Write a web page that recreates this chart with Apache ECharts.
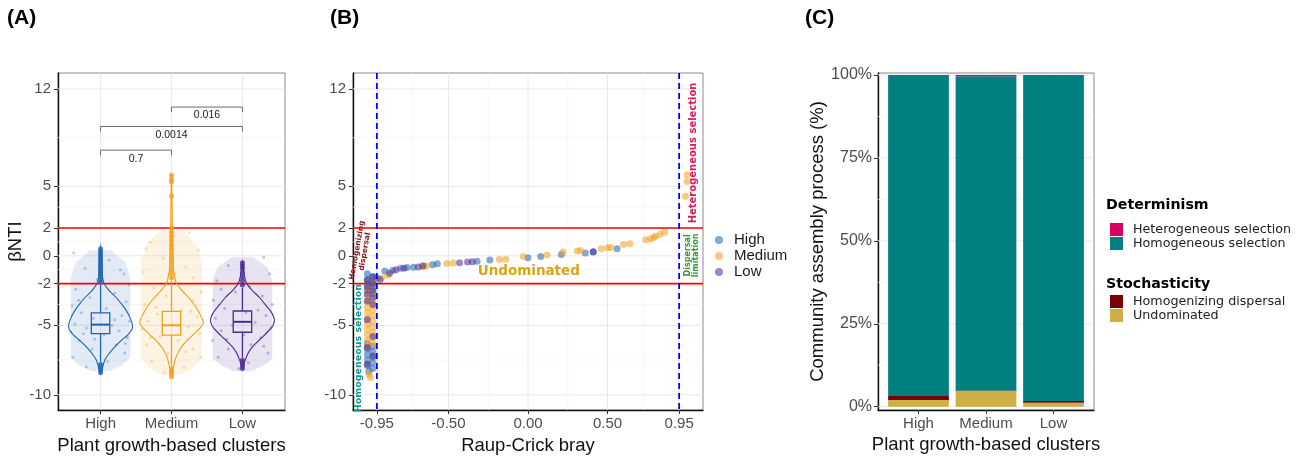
<!DOCTYPE html>
<html>
<head>
<meta charset="utf-8">
<script src="https://cdn.jsdelivr.net/npm/echarts@6/dist/echarts.min.js"></script>
<style>
  html, body { margin: 0; padding: 0; background: #fff; }
  #chart { width: 1304px; height: 460px; }
</style>
</head>
<body>
<div id="chart"></div>
<script>
// ---- data ----
const groups = ['High', 'Medium', 'Low'];
const groupColors = ['#2162b0', '#f0a01e', '#4b2a94'];

const yTicks = [12, 5, 2, 0, -2, -5, -10];
const yMinor = [8.5, 3.5, 1, -1, -3.5, -7.5];
const thresholds = [2, -2];

// (A) violin outlines: [betaNTI, half width]
const violinHigh = [[0.6,0],[0,0.012],[-1,0.02],[-1.6,0.03],[-2,0.05],[-2.5,0.12],[-3,0.22],[-3.5,0.3],[-4,0.37],[-4.5,0.42],[-5,0.45],[-5.3,0.44],[-5.7,0.38],[-6.1,0.29],[-6.6,0.19],[-7.1,0.11],[-7.5,0.06],[-8,0.03],[-8.5,0]];
const violinMed = [[5.9,0],[4,0.008],[2,0.012],[0,0.02],[-1,0.03],[-1.6,0.05],[-2,0.07],[-2.5,0.15],[-3,0.24],[-3.5,0.32],[-4,0.38],[-4.5,0.43],[-4.8,0.45],[-5.2,0.4],[-5.7,0.3],[-6.2,0.2],[-6.7,0.12],[-7.2,0.07],[-7.7,0.04],[-8.2,0.02],[-8.7,0]];
const violinLow = [[-0.5,0],[-1,0.015],[-1.5,0.03],[-2,0.06],[-2.5,0.14],[-3,0.24],[-3.5,0.32],[-4,0.4],[-4.4,0.44],[-4.7,0.45],[-5.1,0.42],[-5.5,0.35],[-6,0.25],[-6.5,0.15],[-7,0.08],[-7.5,0.04],[-8.1,0]];

// (A) extent of the jittered point cloud: [betaNTI, half width]
const cloudHigh = [[0.4,0.15],[-0.5,0.35],[-1.5,0.42],[-7.3,0.42],[-7.9,0.3],[-8.3,0.12]];
const cloudMed = [[1.9,0.15],[0.8,0.35],[-0.5,0.43],[-7.4,0.43],[-8.1,0.3],[-8.6,0.12]];
const cloudLow = [[-0.1,0.15],[-0.8,0.35],[-1.8,0.42],[-7.4,0.42],[-7.9,0.3],[-8.3,0.12]];

// (A) some of the jittered points: [offset from group, betaNTI]
const jitHigh = [[-0.38,0.2],[0.12,-0.3],[-0.22,-0.9],[0.33,-1.3],[-0.05,-1.7],[0.4,-2.1],[-0.35,-2.4],[0.2,-2.7],[-0.15,-3.0],[0.36,-3.3],[-0.4,-3.6],[0.08,-3.8],[-0.27,-4.1],[0.3,-4.3],[-0.1,-4.5],[0.41,-4.7],[-0.36,-4.9],[0.16,-5.0],[-0.2,-5.2],[0.26,-5.4],[-0.42,-5.5],[0.05,-5.7],[0.38,-5.9],[-0.3,-6.1],[0.22,-6.4],[-0.12,-6.7],[0.34,-7.0],[-0.39,-7.3],[0.1,-7.6],[-0.2,-8.0],[0.28,-1.0],[-0.31,-3.2],[0.2,-4.6],[-0.24,-5.6],[0.35,-6.3],[-0.08,-6.0]];
const jitMed = [[0.25,1.7],[-0.3,1.0],[0.38,0.4],[-0.12,-0.2],[0.2,-0.8],[-0.4,-1.2],[0.05,-1.8],[-0.25,-2.3],[0.42,-2.6],[-0.08,-2.9],[0.3,-3.2],[-0.38,-3.5],[0.14,-3.9],[-0.2,-4.2],[0.36,-4.4],[-0.33,-4.7],[0.02,-4.9],[0.24,-5.1],[-0.42,-5.3],[0.4,-5.6],[-0.16,-5.8],[0.1,-6.1],[-0.35,-6.4],[0.3,-6.7],[-0.05,-7.0],[0.41,-7.3],[-0.28,-7.6],[0.18,-8.0],[-0.1,-8.4],[-0.36,0.5],[0.3,-1.6],[-0.22,-3.7],[0.27,-4.0],[-0.3,-5.9],[0.2,-6.9]];
const jitLow = [[0.3,-0.1],[-0.2,-0.7],[0.38,-1.3],[-0.36,-1.8],[0.1,-2.2],[-0.1,-2.6],[0.28,-2.9],[-0.41,-3.2],[0.42,-3.5],[-0.25,-3.8],[0.05,-4.1],[0.33,-4.3],[-0.38,-4.5],[0.18,-4.8],[-0.14,-5.0],[0.4,-5.2],[-0.3,-5.4],[0.02,-5.7],[0.26,-5.9],[-0.42,-6.1],[0.12,-6.4],[-0.2,-6.7],[0.36,-7.0],[-0.34,-7.3],[0.08,-7.7],[-0.05,-8.1],[-0.3,-2.4],[0.22,-3.9],[-0.22,-6.0],[0.3,-6.5]];

// (A) boxes: [lower whisker, Q1, median, Q3, upper whisker]
const boxHigh = [-7.6, -5.6, -4.95, -4.1, -2.1];
const boxMed = [-7.9, -5.7, -5.0, -4.0, -1.8];
const boxLow = [-7.3, -5.5, -4.75, -3.97, -2.3];

// (A) outliers
const outHigh = [0.5,0.3,0.1,-0.1,-0.3,-0.5,-0.7,-0.9,-1.1,-1.3,-1.5,-1.7,-1.9,-7.8,-8.0,-8.2,-8.4];
const outMed = [5.8,5.5,5.3,4.3,2.0,1.7,1.4,1.1,0.8,0.5,0.2,-0.1,-0.4,-0.7,-1.0,-1.3,-1.6,-8.1,-8.3,-8.5,-8.7];
const outLow = [-0.5,-0.7,-0.9,-1.2,-1.5,-1.8,-2.1,-7.5,-7.7,-7.9,-8.1];

// (A) pairwise tests: [group from, group to, height]
const brackets = [[1, 2, 7.6], [1, 3, 9.3], [2, 3, 10.7]];
const bracketLabels = ['0.7', '0.0014', '0.016'];

// (B) RC bray vs betaNTI
const xTicksB = [-0.95, -0.5, 0, 0.5, 0.95];
const xMinorB = [-0.725, -0.25, 0.25, 0.725];
const rcCut = [-0.95, 0.95];
const bHigh = [[-1.01,-1.3],[-0.975,-1.5],[-1.01,-1.7],[-0.975,-1.9],[-1.01,-2.1],[-0.975,-2.3],[-1.01,-2.5],[-0.975,-2.7],
  [-1.01,-6.3],[-0.975,-6.5],[-1.01,-6.7],[-0.975,-6.9],[-1.01,-7.1],[-0.975,-7.3],[-1.01,-7.5],[-0.975,-7.7],[-1.01,-7.9],[-0.975,-8.1],[-1.0,-8.3],
  [-0.95,-1.6],[-0.9,-1.1],[-0.85,-1.05],[-0.8,-0.9],[-0.76,-0.85],[-0.72,-0.82],[-0.6,-0.65],[-0.57,-0.57],[-0.32,-0.4],[-0.24,-0.3],[0.0,-0.14],[0.08,-0.05],[0.21,0.1],[0.36,0.2],[0.41,0.27],[0.56,0.5]];
const bMed = [[-1.0,-2.5],[-0.975,-2.7],[-1.01,-2.9],[-0.975,-3.1],[-1.01,-3.3],[-0.975,-3.5],[-1.01,-3.7],[-0.975,-3.9],[-1.01,-4.1],[-0.975,-4.3],[-1.01,-4.5],[-0.975,-4.7],[-1.01,-4.9],[-0.975,-5.1],[-1.01,-5.3],[-0.975,-5.5],[-1.01,-5.7],[-0.975,-5.9],[-1.01,-6.1],[-0.975,-6.3],[-1.01,-6.5],
  [-1.0,-8.5],[-0.99,-8.75],[-0.975,-1.9],[-1.01,-2.2],
  [-0.92,-1.6],[-0.88,-1.4],[-0.66,-0.78],[-0.64,-0.74],[-0.51,-0.55],[-0.47,-0.52],[-0.18,-0.26],[-0.14,-0.25],[-0.03,-0.05],[0.12,0.05],[0.22,0.27],[0.31,0.34],[0.33,0.38],[0.46,0.5],[0.5,0.58],[0.52,0.6],[0.6,0.82],[0.64,0.87],[0.74,1.15],[0.77,1.23],[0.79,1.3],[0.8,1.41],[0.83,1.53],[0.86,1.7],
  [1.0,5.83],[1.0,5.35],[0.99,4.28]];
const bLow = [[-0.975,-1.5],[-1.01,-1.75],[-0.975,-2.0],[-1.01,-2.25],[-0.975,-2.5],[-1.01,-2.75],[-0.975,-3.0],[-1.01,-3.25],[-0.975,-3.5],
  [-1.01,-4.6],[-0.975,-5.8],[-1.01,-6.6],[-0.975,-7.2],[-1.01,-7.8],
  [-0.93,-1.7],[-0.87,-1.25],[-0.83,-1.0],[-0.78,-0.9],[-0.69,-0.8],[-0.66,-0.72],[-0.43,-0.5],[-0.38,-0.45],[-0.35,-0.42],[0.41,0.3]];

// (C) community assembly process (%), bottom to top
const processes = ['Undominated', 'Homogenizing dispersal', 'Homogeneous selection', 'Heterogeneous selection'];
const undominated = [2.0, 4.7, 1.2];
const homDispersal = [1.2, 0.2, 0.5];
const homSelection = [96.8, 94.7, 98.3];
const hetSelection = [0, 0.4, 0];
const pctTicks = [0, 25, 50, 75, 100];
const pctMinor = [12.5, 37.5, 62.5, 87.5];

// ---- helpers ----
function hexA(hex, a) {
  const n = parseInt(hex.slice(1), 16);
  return 'rgba(' + (n >> 16) + ',' + ((n >> 8) & 255) + ',' + (n & 255) + ',' + a + ')';
}

function hLines(idx, values, color, width, dash, z) {
  return {
    type: 'custom', xAxisIndex: idx, yAxisIndex: idx, z: z, silent: true,
    data: values.map(v => [0, v]),
    renderItem: (params, api) => {
      const cs = params.coordSys;
      const y = api.coord([0, api.value(1)])[1];
      return { type: 'line', shape: { x1: cs.x, y1: y, x2: cs.x + cs.width, y2: y },
        style: { stroke: color, lineWidth: width, lineDash: dash || null } };
    }
  };
}

function vLines(idx, values, color, width, dash, z) {
  return {
    type: 'custom', xAxisIndex: idx, yAxisIndex: idx, z: z, silent: true,
    data: values.map(v => [v, 0]),
    renderItem: (params, api) => {
      const cs = params.coordSys;
      const x = api.coord([api.value(0), 0])[0];
      return { type: 'line', shape: { x1: x, y1: cs.y, x2: x, y2: cs.y + cs.height },
        style: { stroke: color, lineWidth: width, lineDash: dash || null } };
    }
  };
}

function outline(api, c, prof) {
  const left = prof.map(r => api.coord([c - r[1], r[0]]));
  const right = prof.slice().reverse().map(r => api.coord([c + r[1], r[0]]));
  return left.concat(right);
}

const violins = [violinHigh, violinMed, violinLow];
const clouds = [cloudHigh, cloudMed, cloudLow];
const jitters = [jitHigh, jitMed, jitLow];
const boxes = [boxHigh, boxMed, boxLow];
const outliers = [outHigh, outMed, outLow];
const bPoints = [bHigh, bMed, bLow];
const shares = [undominated, homDispersal, homSelection, hetSelection];
const processColors = ['#cfae45', '#7b0000', '#008080', '#d8005c'];

const gridCol = '#e8e8e8';
const minorCol = '#f2f2f2';
const tickFont = 'Liberation Sans';
const annoFont = 'DejaVu Sans';

// annotations in panel B (data coordinates)
const annotations = [
  { text: 'Homogeneous selection', x: -1.064, y: -6.64, rot: 90, color: '#139a93', size: 9.5 },
  { text: 'Homogenizing\ndispersal', x: -1.05, y: 0.35, rot: 80, color: '#8b1a1a', size: 7.5 },
  { text: 'Undominated', x: 0.005, y: -1.12, rot: 0, color: '#d9a514', size: 13.5 },
  { text: 'Heterogeneous selection', x: 1.04, y: 7.4, rot: 90, color: '#dc1a5e', size: 10 },
  { text: 'Dispersal\nlimitation', x: 1.03, y: 0.03, rot: 90, color: '#2f9a2f', size: 8 }
];

const series = [];

// ---------- panel A ----------
series.push(hLines(0, yMinor, minorCol, 0.7, null, 1));
series.push(hLines(0, yTicks, gridCol, 1, null, 1));
series.push(vLines(0, [1, 2, 3], gridCol, 1, null, 1));

series.push({
  type: 'custom', xAxisIndex: 0, yAxisIndex: 0, z: 2, silent: true,
  data: groups.map((g, i) => [i + 1, 0]),
  renderItem: (params, api) => {
    const i = params.dataIndex;
    return { type: 'polygon', shape: { points: outline(api, api.value(0), clouds[i]) },
      style: { fill: hexA(groupColors[i], 0.13) } };
  }
});

groups.forEach((g, i) => {
  series.push({
    type: 'scatter', name: 'jit-' + g, xAxisIndex: 0, yAxisIndex: 0, z: 3, silent: true,
    symbolSize: 3,
    itemStyle: { color: groupColors[i], opacity: 0.3 },
    data: jitters[i].map(p => [i + 1 + p[0], p[1]])
  });
});

series.push(hLines(0, thresholds, '#ff0000', 1.6, null, 4));

series.push({
  type: 'custom', xAxisIndex: 0, yAxisIndex: 0, z: 5, silent: true,
  data: groups.map((g, i) => [i + 1, 0]),
  renderItem: (params, api) => {
    const i = params.dataIndex;
    return { type: 'polygon', shape: { points: outline(api, api.value(0), violins[i]), smooth: 0.3 },
      style: { fill: null, stroke: groupColors[i], lineWidth: 1.1 } };
  }
});

series.push({
  type: 'custom', xAxisIndex: 0, yAxisIndex: 0, z: 6, silent: true,
  data: groups.map((g, i) => [i + 1, boxes[i][2]]),
  renderItem: (params, api) => {
    const i = params.dataIndex;
    const c = api.value(0);
    const b = boxes[i];
    const hw = 0.13;
    const col = groupColors[i];
    const st = { stroke: col, lineWidth: 1.3, fill: null };
    const p = (x, y) => api.coord([x, y]);
    const seg = (x1, y1, x2, y2) => {
      const a = p(x1, y1), q = p(x2, y2);
      return { type: 'line', shape: { x1: a[0], y1: a[1], x2: q[0], y2: q[1] }, style: st };
    };
    const tl = p(c - hw, b[3]), br = p(c + hw, b[1]);
    return { type: 'group', children: [
      seg(c, b[3], c, b[4]),
      seg(c, b[1], c, b[0]),
      { type: 'rect', shape: { x: tl[0], y: tl[1], width: br[0] - tl[0], height: br[1] - tl[1] }, style: st },
      { type: 'line', shape: { x1: tl[0], y1: p(c, b[2])[1], x2: br[0], y2: p(c, b[2])[1] }, style: { stroke: col, lineWidth: 2 } }
    ] };
  }
});

groups.forEach((g, i) => {
  series.push({
    type: 'scatter', name: 'out-' + g, xAxisIndex: 0, yAxisIndex: 0, z: 7, silent: true,
    symbolSize: 5,
    itemStyle: { color: groupColors[i] },
    data: outliers[i].map(v => [i + 1, v])
  });
});

series.push({
  type: 'custom', xAxisIndex: 0, yAxisIndex: 0, z: 8, silent: true,
  data: brackets.map(r => [r[0], r[2]]),
  renderItem: (params, api) => {
    const r = brackets[params.dataIndex];
    const a = api.coord([r[0], r[2]]), b = api.coord([r[1], r[2]]);
    return { type: 'group', children: [
      { type: 'polyline', shape: { points: [[a[0], a[1] + 5], [a[0], a[1]], [b[0], b[1]], [b[0], b[1] + 5]] },
        style: { stroke: '#6b6b6b', lineWidth: 1, fill: null } },
      { type: 'text', x: (a[0] + b[0]) / 2, y: a[1] + 8.5,
        style: { text: bracketLabels[params.dataIndex], align: 'center', verticalAlign: 'middle',
          font: '10.5px "Liberation Sans"', fill: '#222' } }
    ] };
  }
});

// ---------- panel B ----------
series.push(hLines(1, yMinor, minorCol, 0.7, null, 1));
series.push(hLines(1, yTicks, gridCol, 1, null, 1));
series.push(vLines(1, xMinorB, minorCol, 0.7, null, 1));
series.push(vLines(1, xTicksB, gridCol, 1, null, 1));
series.push(hLines(1, thresholds, '#ff0000', 1.6, null, 2));

groups.forEach((g, i) => {
  series.push({
    type: 'scatter', name: g, xAxisIndex: 1, yAxisIndex: 1, z: 3, silent: true,
    symbolSize: 7,
    itemStyle: { color: groupColors[i], opacity: 0.55 },
    data: bPoints[i]
  });
});

series.push(vLines(1, rcCut, '#0000ff', 1.8, [6, 4], 4));

series.push({
  type: 'custom', xAxisIndex: 1, yAxisIndex: 1, z: 5, silent: true,
  data: annotations.map(a => [a.x, a.y]),
  renderItem: (params, api) => {
    const a = annotations[params.dataIndex];
    const p = api.coord([api.value(0), api.value(1)]);
    return { type: 'text', x: p[0], y: p[1], rotation: a.rot * Math.PI / 180,
      style: { text: a.text, fill: a.color, font: 'bold ' + a.size + 'px "' + annoFont + '"',
        align: 'center', verticalAlign: 'middle', lineHeight: a.size * 1.05 } };
  }
});

// ---------- panel C ----------
series.push(hLines(2, pctMinor, minorCol, 0.7, null, 1));
series.push(hLines(2, pctTicks, gridCol, 1, null, 1));
series.push(vLines(2, [1, 2, 3], gridCol, 1, null, 1));

// stacked shares: each segment sits on the sum of the ones below it
processes.forEach((name, k) => {
  const data = groups.map((g, i) => {
    let base = 0;
    for (let j = 0; j < k; j++) base += shares[j][i];
    return [i + 1, base, base + shares[k][i]];
  });
  series.push({
    type: 'custom', name: name, xAxisIndex: 2, yAxisIndex: 2, z: 3, silent: true,
    itemStyle: { color: processColors[k] },
    encode: { x: 0, y: [1, 2] },
    data: data,
    renderItem: (params, api) => {
      const x = api.value(0);
      const a = api.coord([x - 0.45, api.value(2)]);
      const b = api.coord([x + 0.45, api.value(1)]);
      return { type: 'rect', shape: { x: a[0], y: a[1], width: b[0] - a[0], height: b[1] - a[1] },
        style: { fill: processColors[k] } };
    }
  });
});

// ---------- axes ----------
const tickLabel = (size) => ({ fontFamily: tickFont, fontSize: size, color: '#4d4d4d' });
const nameStyle = { fontFamily: tickFont, fontSize: 18.5, color: '#111' };
const axisLine = { show: true, onZero: false, lineStyle: { color: '#111', width: 1.4 } };
const axisTick = (vals) => ({ show: true, length: 4, customValues: vals, lineStyle: { color: '#333', width: 1 } });

const option = {
  animation: false,
  backgroundColor: '#fff',
  grid: [
    { left: 58, top: 73, width: 227, height: 338, show: true, borderColor: '#8a8a8a', borderWidth: 1 },
    { left: 353, top: 73, width: 350, height: 338, show: true, borderColor: '#8a8a8a', borderWidth: 1 },
    { left: 878, top: 73, width: 216, height: 337, show: true, borderColor: '#8a8a8a', borderWidth: 1 }
  ],
  xAxis: [
    { gridIndex: 0, type: 'value', min: 0.4, max: 3.6, splitLine: { show: false },
      axisLine: axisLine, axisTick: axisTick([1, 2, 3]),
      axisLabel: Object.assign({ customValues: [1, 2, 3], margin: 6, formatter: v => groups[Math.round(v) - 1] }, tickLabel(15)),
      name: 'Plant growth-based clusters', nameLocation: 'middle', nameGap: 21, nameTextStyle: nameStyle },
    { gridIndex: 1, type: 'value', min: -1.1, max: 1.1, splitLine: { show: false },
      axisLine: axisLine, axisTick: axisTick(xTicksB),
      axisLabel: Object.assign({ customValues: xTicksB, margin: 6, formatter: v => v.toFixed(2) }, tickLabel(15)),
      name: 'Raup-Crick bray', nameLocation: 'middle', nameGap: 21, nameTextStyle: nameStyle },
    { gridIndex: 2, type: 'value', min: 0.4, max: 3.6, splitLine: { show: false },
      axisLine: axisLine, axisTick: axisTick([1, 2, 3]),
      axisLabel: Object.assign({ customValues: [1, 2, 3], margin: 6, formatter: v => groups[Math.round(v) - 1] }, tickLabel(15)),
      name: 'Plant growth-based clusters', nameLocation: 'middle', nameGap: 21, nameTextStyle: nameStyle }
  ],
  yAxis: [
    { gridIndex: 0, type: 'value', min: -11.1, max: 13.15, splitLine: { show: false },
      axisLine: axisLine, axisTick: axisTick(yTicks),
      axisLabel: Object.assign({ customValues: yTicks, margin: 7 }, tickLabel(15)),
      name: 'βNTI', nameLocation: 'middle', nameGap: 22, nameTextStyle: nameStyle },
    { gridIndex: 1, type: 'value', min: -11.1, max: 13.15, splitLine: { show: false },
      axisLine: axisLine, axisTick: axisTick(yTicks),
      axisLabel: Object.assign({ customValues: yTicks, margin: 7 }, tickLabel(15)) },
    { gridIndex: 2, type: 'value', min: -1, max: 100.6, splitLine: { show: false },
      axisLine: axisLine, axisTick: axisTick(pctTicks),
      axisLabel: Object.assign({ customValues: pctTicks, margin: 6, formatter: v => v + '%' }, tickLabel(16)),
      name: 'Community assembly process (%)', nameLocation: 'middle', nameGap: 49, nameTextStyle: nameStyle }
  ],
  legend: [
    { data: groups, left: 715, top: 232, orient: 'vertical', icon: 'circle', itemWidth: 8, itemHeight: 8,
      itemGap: 0, padding: 0, selectedMode: false,
      textStyle: { fontFamily: tickFont, fontSize: 15, lineHeight: 16, color: '#1a1a1a', padding: [0, 0, 0, 6] } },
    { data: ['Heterogeneous selection', 'Homogeneous selection'], left: 1110, top: 223, orient: 'vertical',
      icon: 'rect', itemWidth: 13, itemHeight: 13, itemGap: 1, padding: 0, selectedMode: false,
      textStyle: { fontFamily: annoFont, fontSize: 12.7, lineHeight: 13, color: '#222', padding: [0, 0, 0, 5] } },
    { data: ['Homogenizing dispersal', 'Undominated'], left: 1110, top: 295, orient: 'vertical',
      icon: 'rect', itemWidth: 13, itemHeight: 13, itemGap: 1, padding: 0, selectedMode: false,
      textStyle: { fontFamily: annoFont, fontSize: 12.7, lineHeight: 13, color: '#222', padding: [0, 0, 0, 5] } }
  ],
  graphic: [
    { type: 'text', left: 7, top: 8, style: { text: '(A)', font: 'bold 21px "Liberation Sans"', fill: '#000' } },
    { type: 'text', left: 330, top: 8, style: { text: '(B)', font: 'bold 21px "Liberation Sans"', fill: '#000' } },
    { type: 'text', left: 805, top: 8, style: { text: '(C)', font: 'bold 21px "Liberation Sans"', fill: '#000' } },
    { type: 'text', left: 1106, top: 198, style: { text: 'Determinism', font: 'bold 14.2px "DejaVu Sans"', fill: '#000' } },
    { type: 'text', left: 1106, top: 277, style: { text: 'Stochasticity', font: 'bold 14.2px "DejaVu Sans"', fill: '#000' } }
  ],
  series: series
};

const chart = echarts.init(document.getElementById('chart'));
chart.setOption(option);
</script>
</body>
</html>
